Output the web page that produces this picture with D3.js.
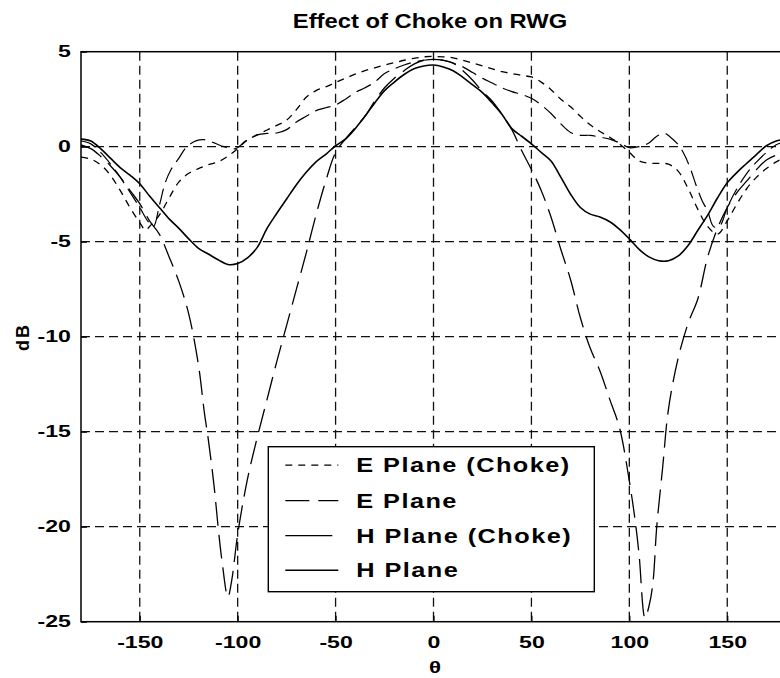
<!DOCTYPE html>
<html>
<head>
<meta charset="utf-8">
<script src="https://cdn.jsdelivr.net/npm/d3@7"></script>
<style>
  body { margin: 0; background: #fff; }
  svg { display: block; }
  text { font-family: "Liberation Sans", Arial, sans-serif; font-weight: bold; fill: #000; }
</style>
</head>
<body>
<div id="chart"></div>
<script>
// Tick labels
const thetaTicks = [-150, -100, -50, 0, 50, 100, 150];
const dbTicks = [5, 0, -5, -10, -15, -20, -25];
const legendNames = ["E Plane (Choke)", "E Plane", "H Plane (Choke)", "H Plane"];

// Series values, [theta (deg), dB]
const ePlaneChoke = [
  [-180,-0.55],[-175,-0.65],[-170,-0.95],[-165,-1.5],[-160,-2.3],[-155,-3.2],[-150,-4.0],[-147,-4.4],[-145,-4.2],
  [-140,-3.6],[-135,-2.7],[-130,-1.85],[-125,-1.4],[-120,-1.15],[-115,-0.95],[-110,-0.8],[-105,-0.5],[-100,-0.1],
  [-95,0.35],[-90,0.62],[-85,0.88],[-80,1.12],[-75,1.4],[-70,1.95],[-65,2.6],[-60,2.95],[-55,3.15],[-50,3.38],
  [-45,3.6],[-40,3.82],[-35,4.0],[-30,4.15],[-25,4.3],[-20,4.42],[-15,4.55],[-10,4.65],[-5,4.73],[0,4.75],
  [5,4.73],[10,4.68],[15,4.55],[20,4.4],[25,4.25],[30,4.1],[35,3.95],[40,3.85],[45,3.75],[50,3.67],[55,3.4],
  [60,3.0],[65,2.5],[70,2.1],[75,1.6],[80,1.15],[85,0.8],[90,0.5],[95,0.15],[100,-0.3],[105,-0.75],[110,-0.87],
  [115,-0.88],[120,-0.92],[125,-1.3],[130,-2.2],[135,-3.3],[140,-4.2],[145,-4.6],[150,-3.9],[155,-3.0],
  [160,-2.2],[165,-1.6],[170,-1.15],[175,-0.8],[180,-0.55]
];

const ePlane = [
  [-180,0.1],[-175,-0.1],[-170,-0.5],[-165,-1.0],[-160,-1.6],[-155,-2.3],[-150,-3.0],[-145,-3.9],[-140,-4.6],
  [-135,-5.8],[-130,-7.1],[-125,-8.8],[-120,-11.5],[-117,-14.0],[-115,-15.4],[-112,-17.9],[-110,-20.0],[-108,-21.8],
  [-105,-23.7],[-103,-22.8],[-100,-20.4],[-95,-17.5],[-90,-15.3],[-85,-13.3],[-80,-11.3],[-75,-9.4],[-70,-7.5],
  [-65,-5.6],[-60,-3.6],[-55,-1.8],[-50,-0.3],[-45,0.4],[-40,1.0],[-35,1.6],[-30,2.4],[-25,3.1],[-20,3.6],
  [-15,4.0],[-10,4.35],[-5,4.55],[0,4.6],[5,4.55],[10,4.4],[15,4.0],[20,3.5],[25,2.9],[30,2.4],[35,1.7],[40,0.9],
  [45,-0.2],[50,-1.2],[55,-2.3],[60,-3.7],[65,-5.4],[70,-7.0],[75,-9.0],[80,-10.6],[85,-11.8],[90,-13.3],
  [95,-14.8],[100,-17.6],[103,-19.7],[105,-21.5],[108,-24.8],[110,-24.2],[112,-23.0],[114,-20.0],[117,-16.9],
  [120,-13.8],[125,-11.1],[130,-9.3],[135,-8.0],[140,-5.8],[145,-4.3],[150,-3.2],[155,-2.4],[160,-1.8],
  [165,-1.2],[170,-0.7],[175,-0.45],[180,-0.3]
];

const hPlaneChoke = [
  [-180,0.3],[-175,0.15],[-170,-0.3],[-165,-0.9],[-160,-1.6],[-155,-2.4],[-150,-3.2],[-146,-3.9],[-143,-4.2],
  [-140,-3.1],[-137,-1.9],[-134,-1.2],[-130,-0.6],[-126,0.0],[-121,0.32],[-117,0.37],[-112,0.2],[-107,0.0],
  [-101,-0.1],[-96,0.3],[-90,0.62],[-85,0.7],[-80,0.72],[-75,0.9],[-70,1.3],[-65,1.6],[-60,1.9],[-55,2.05],
  [-50,2.2],[-45,2.5],[-40,2.85],[-35,3.1],[-30,3.4],[-25,3.85],[-20,4.1],[-15,4.3],[-10,4.45],[-5,4.55],[0,4.6],
  [5,4.55],[10,4.4],[15,4.2],[20,3.9],[25,3.6],[30,3.35],[35,3.1],[40,2.9],[45,2.75],[50,2.55],[55,2.2],
  [60,1.75],[65,1.2],[70,0.75],[75,0.6],[80,0.6],[85,0.5],[90,0.4],[95,0.2],[100,-0.05],[105,0.0],[110,0.2],
  [114,0.55],[118,0.7],[121,0.5],[125,0.1],[128,-0.4],[131,-1.1],[134,-2.0],[137,-2.8],[140,-3.4],[143,-4.2],
  [146,-4.2],[150,-3.2],[155,-2.2],[160,-1.4],[165,-0.8],[170,-0.3],[175,0.1],[180,0.3]
];

const hPlane = [
  [-180,0.4],[-175,0.3],[-170,-0.1],[-165,-0.6],[-160,-1.1],[-155,-1.5],[-150,-1.95],[-145,-2.6],[-140,-3.2],
  [-135,-3.8],[-130,-4.3],[-125,-4.85],[-120,-5.35],[-115,-5.65],[-110,-5.95],[-105,-6.2],[-100,-6.15],
  [-95,-5.85],[-90,-5.3],[-85,-4.3],[-80,-3.5],[-75,-2.75],[-70,-2.0],[-65,-1.35],[-60,-0.8],[-55,-0.4],
  [-50,0.05],[-45,0.4],[-40,0.95],[-35,1.6],[-30,2.3],[-25,2.95],[-20,3.4],[-15,3.8],[-10,4.1],[-5,4.25],[0,4.3],
  [5,4.2],[10,4.0],[15,3.65],[20,3.25],[25,2.85],[30,2.3],[35,1.7],[40,0.95],[45,0.55],[50,0.15],[55,-0.3],
  [60,-0.75],[65,-1.6],[70,-2.5],[75,-3.2],[80,-3.55],[85,-3.7],[90,-3.95],[95,-4.35],[100,-4.85],[105,-5.4],
  [110,-5.8],[115,-6.0],[120,-6.0],[125,-5.75],[130,-5.2],[135,-4.4],[140,-3.6],[145,-2.7],[150,-1.9],
  [155,-1.35],[160,-0.87],[165,-0.4],[170,0.05],[175,0.3],[180,0.4]
];

// Size and plot box (right edge falls just outside the window, as in the scan)
const width = 780, height = 678;
const plotLeft = 81, plotRight = 786, plotTop = 51.7, plotBottom = 621.7;

const svg = d3.select("#chart").append("svg")
  .attr("width", width)
  .attr("height", height);

const x = d3.scaleLinear().domain([-180, 180]).range([plotLeft, plotRight]);
const y = d3.scaleLinear().domain([-25, 5]).range([plotBottom, plotTop]);

// Grid
svg.append("g").selectAll("line")
  .data(thetaTicks)
  .enter().append("line")
  .attr("x1", d => x(d)).attr("x2", d => x(d))
  .attr("y1", plotTop).attr("y2", plotBottom)
  .attr("stroke", "#111").attr("stroke-width", 1.3)
  .attr("stroke-dasharray", "9,5");

svg.append("g").selectAll("line")
  .data(dbTicks.filter(d => d < 5 && d > -25))
  .enter().append("line")
  .attr("x1", plotLeft).attr("x2", plotRight)
  .attr("y1", d => y(d)).attr("y2", d => y(d))
  .attr("stroke", "#111").attr("stroke-width", 1.3)
  .attr("stroke-dasharray", "9,5");

// Curves
const series = [
  { name: legendNames[0], values: ePlaneChoke, dash: "7,6", w: 1.3 },
  { name: legendNames[1], values: ePlane, dash: "24,9", w: 1.3 },
  { name: legendNames[2], values: hPlaneChoke, dash: "16,7", w: 1.2 },
  { name: legendNames[3], values: hPlane, dash: null, w: 1.6 }
];

const line = d3.line()
  .x(d => x(d[0]))
  .y(d => y(d[1]))
  .curve(d3.curveCatmullRom.alpha(0.5));

svg.append("g").selectAll("path")
  .data(series)
  .enter().append("path")
  .attr("d", d => line(d.values))
  .attr("fill", "none")
  .attr("stroke", "#000")
  .attr("stroke-width", d => d.w)
  .attr("stroke-dasharray", d => d.dash);

// Axes (plain hyphen for negatives, as in the original)
const plain = d => String(d);

const xAxis = svg.append("g")
  .attr("transform", `translate(0,${plotBottom})`)
  .call(d3.axisBottom(x).tickValues(thetaTicks).tickFormat(plain)
    .tickSizeInner(-6).tickSizeOuter(0).tickPadding(15));
xAxis.select(".domain").remove();
xAxis.selectAll("text")
  .attr("transform", "scale(1.4,1)")
  .style("font-size", "16.5px")
  .style("font-family", "'Liberation Sans', Arial, sans-serif");

const yAxis = svg.append("g")
  .attr("transform", `translate(${plotLeft},0)`)
  .call(d3.axisLeft(y).tickValues(dbTicks).tickFormat(plain)
    .tickSizeInner(-6).tickSizeOuter(0).tickPadding(7));
yAxis.select(".domain").remove();
yAxis.selectAll("text")
  .attr("x", -7.2)
  .attr("transform", "scale(1.4,1)")
  .style("font-size", "16.5px")
  .style("font-family", "'Liberation Sans', Arial, sans-serif");
svg.selectAll(".tick line").attr("stroke", "#000").attr("stroke-width", 1.2);

// Box
svg.append("rect")
  .attr("x", plotLeft).attr("y", plotTop)
  .attr("width", plotRight - plotLeft).attr("height", plotBottom - plotTop)
  .attr("fill", "none").attr("stroke", "#000").attr("stroke-width", 1.5);

// Title and axis labels
svg.append("g")
  .attr("transform", "translate(430,28) scale(1.22,1)")
  .append("text")
  .attr("text-anchor", "middle")
  .style("font-size", "19.5px")
  .text("Effect of Choke on RWG");

svg.append("g")
  .attr("transform", "translate(435,673) scale(1.35,1)")
  .append("text")
  .attr("text-anchor", "middle")
  .style("font-size", "16.5px")
  .text("θ");

svg.append("text")
  .attr("transform", "translate(29,337) rotate(-90)")
  .attr("text-anchor", "middle")
  .style("font-size", "18px")
  .style("letter-spacing", "2px")
  .text("dB");

// Legend
const legend = svg.append("g").attr("transform", "translate(268.3,446.7)");
legend.append("rect")
  .attr("width", 326).attr("height", 145)
  .attr("fill", "#fff").attr("stroke", "#000").attr("stroke-width", 1.4);

const rowY = [18.5, 54, 89, 123.5];
const item = legend.selectAll("g.item")
  .data(series)
  .enter().append("g")
  .attr("class", "item")
  .attr("transform", (d, i) => `translate(0,${rowY[i]})`);

item.append("line")
  .attr("x1", 17).attr("x2", (d, i) => i === 2 ? 64 : 70)
  .attr("y1", 0).attr("y2", 0)
  .attr("stroke", "#000")
  .attr("stroke-width", d => d.w)
  .attr("stroke-dasharray", (d, i) => i === 2 ? null : d.dash);

item.append("g")
  .attr("transform", "translate(88,0) scale(1.3,1)")
  .append("text")
  .attr("dy", "0.36em")
  .style("font-size", "19.5px")
  .style("letter-spacing", "1.1px")
  .text(d => d.name);
</script>
</body>
</html>
